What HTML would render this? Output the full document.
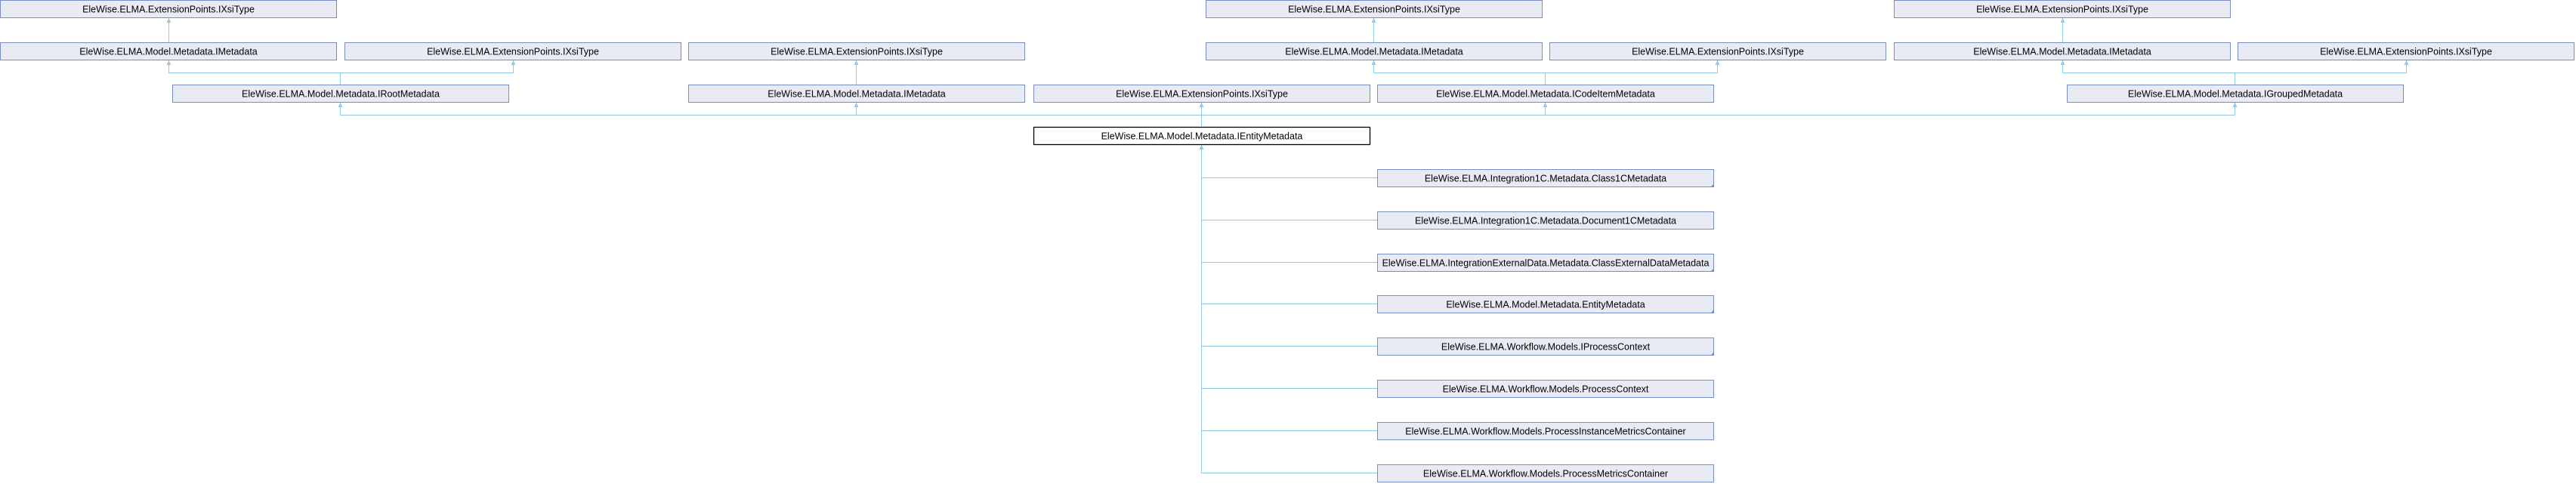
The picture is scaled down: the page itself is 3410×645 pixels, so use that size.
<!DOCTYPE html>
<html><head><meta charset="utf-8"><style>
html,body{margin:0;padding:0;background:#fff;}
svg text{font-family:"Liberation Sans",Arial,sans-serif;font-size:12.5px;fill:#000;text-anchor:middle;}
.b{fill:#e8ebf4;stroke:#7a8cc4;stroke-width:1;}
.m{fill:#fff;stroke:#000;stroke-width:1.3;}
.l{stroke:#8ecae8;stroke-width:1;fill:none;}
.a{fill:#8ecae8;}
.c{fill:#7a8cc4;}
</style></head><body>
<svg width="3410" height="640" viewBox="0 0 3410 640" xmlns="http://www.w3.org/2000/svg">
<!-- connectors -->
<g>
<path class="l" d="M223.5,24V56"/>
<path class="l" d="M223.5,80V96.5H679.5V80M450.5,96.5V112"/>
<path class="l" d="M1133.5,80V112"/>
<path class="l" d="M450.5,136V152.5H2958.5M1133.5,136V152.5M1590.5,136V167M2045.5,136V152.5M2958.5,136V152.5"/>
<path class="l" d="M1818.5,24V56"/>
<path class="l" d="M1818.5,80V96.5H2273.5V80M2045.5,96.5V112"/>
<path class="l" d="M2730.5,24V56"/>
<path class="l" d="M2730.5,80V96.5H3185.5V80M2958.5,96.5V112"/>
<path class="l" d="M1590.5,192V626.5"/>
<path class="l" d="M1590.5,235.5H1823M1590.5,291.5H1823M1590.5,347.5H1823M1590.5,402.5H1823M1590.5,458.5H1823M1590.5,514.5H1823M1590.5,570.5H1823M1590.5,626.5H1823"/>
</g>
<g class="a">
<path d="M223.5,24l-3,6h6z"/><path d="M223.5,80l-3,6h6z"/><path d="M679.5,80l-3,6h6z"/>
<path d="M1133.5,80l-3,6h6z"/>
<path d="M450.5,136l-3,6h6z"/><path d="M1133.5,136l-3,6h6z"/><path d="M1590.5,136l-3,6h6z"/><path d="M2045.5,136l-3,6h6z"/><path d="M2958.5,136l-3,6h6z"/>
<path d="M1818.5,24l-3,6h6z"/><path d="M1818.5,80l-3,6h6z"/><path d="M2273.5,80l-3,6h6z"/>
<path d="M2730.5,24l-3,6h6z"/><path d="M2730.5,80l-3,6h6z"/><path d="M3185.5,80l-3,6h6z"/>
<path d="M1590.5,192l-3,6h6z"/>
</g>
<!-- row 1 -->
<rect class="b" x="0.5" y="0.5" width="445" height="23"/><text x="223" y="16.5">EleWise.ELMA.ExtensionPoints.IXsiType</text>
<rect class="b" x="1596.5" y="0.5" width="445" height="23"/><text x="1819" y="16.5">EleWise.ELMA.ExtensionPoints.IXsiType</text>
<rect class="b" x="2507.5" y="0.5" width="445" height="23"/><text x="2730" y="16.5">EleWise.ELMA.ExtensionPoints.IXsiType</text>
<!-- row 2 -->
<rect class="b" x="0.5" y="56.5" width="445" height="23"/><text x="223" y="72.5">EleWise.ELMA.Model.Metadata.IMetadata</text>
<rect class="b" x="456.5" y="56.5" width="445" height="23"/><text x="679" y="72.5">EleWise.ELMA.ExtensionPoints.IXsiType</text>
<rect class="b" x="911.5" y="56.5" width="445" height="23"/><text x="1134" y="72.5">EleWise.ELMA.ExtensionPoints.IXsiType</text>
<rect class="b" x="1596.5" y="56.5" width="445" height="23"/><text x="1819" y="72.5">EleWise.ELMA.Model.Metadata.IMetadata</text>
<rect class="b" x="2051.5" y="56.5" width="445" height="23"/><text x="2274" y="72.5">EleWise.ELMA.ExtensionPoints.IXsiType</text>
<rect class="b" x="2507.5" y="56.5" width="445" height="23"/><text x="2730" y="72.5">EleWise.ELMA.Model.Metadata.IMetadata</text>
<rect class="b" x="2962.5" y="56.5" width="445" height="23"/><text x="3185" y="72.5">EleWise.ELMA.ExtensionPoints.IXsiType</text>
<!-- row 3 -->
<rect class="b" x="228.5" y="112.5" width="445" height="23"/><text x="451" y="128.5">EleWise.ELMA.Model.Metadata.IRootMetadata</text>
<rect class="b" x="911.5" y="112.5" width="445" height="23"/><text x="1134" y="128.5">EleWise.ELMA.Model.Metadata.IMetadata</text>
<rect class="b" x="1368.5" y="112.5" width="445" height="23"/><text x="1591" y="128.5">EleWise.ELMA.ExtensionPoints.IXsiType</text>
<rect class="b" x="1823.5" y="112.5" width="445" height="23"/><text x="2046" y="128.5">EleWise.ELMA.Model.Metadata.ICodeItemMetadata</text>
<rect class="b" x="2736.5" y="112.5" width="445" height="23"/><text x="2959" y="128.5">EleWise.ELMA.Model.Metadata.IGroupedMetadata</text>
<!-- main -->
<rect class="m" x="1368.5" y="168.5" width="445" height="23"/><text x="1591" y="184.5">EleWise.ELMA.Model.Metadata.IEntityMetadata</text>
<!-- children -->
<g>
<rect class="b" x="1823.5" y="224.5" width="445" height="23"/><text x="2046" y="240.5">EleWise.ELMA.Integration1C.Metadata.Class1CMetadata</text><path class="c" d="M2269,243v5h-5z"/>
<rect class="b" x="1823.5" y="280.5" width="445" height="23"/><text x="2046" y="296.5">EleWise.ELMA.Integration1C.Metadata.Document1CMetadata</text>
<rect class="b" x="1823.5" y="336.5" width="445" height="23"/><text x="2046" y="352.5">EleWise.ELMA.IntegrationExternalData.Metadata.ClassExternalDataMetadata</text><path class="c" d="M2269,355v5h-5z"/>
<rect class="b" x="1823.5" y="391.5" width="445" height="23"/><text x="2046" y="407.5">EleWise.ELMA.Model.Metadata.EntityMetadata</text><path class="c" d="M2269,410v5h-5z"/>
<rect class="b" x="1823.5" y="447.5" width="445" height="23"/><text x="2046" y="463.5">EleWise.ELMA.Workflow.Models.IProcessContext</text><path class="c" d="M2269,466v5h-5z"/>
<rect class="b" x="1823.5" y="503.5" width="445" height="23"/><text x="2046" y="519.5">EleWise.ELMA.Workflow.Models.ProcessContext</text>
<rect class="b" x="1823.5" y="559.5" width="445" height="23"/><text x="2046" y="575.5">EleWise.ELMA.Workflow.Models.ProcessInstanceMetricsContainer</text>
<rect class="b" x="1823.5" y="615.5" width="445" height="23"/><text x="2046" y="631.5">EleWise.ELMA.Workflow.Models.ProcessMetricsContainer</text>
</g>
</svg>
</body></html>
